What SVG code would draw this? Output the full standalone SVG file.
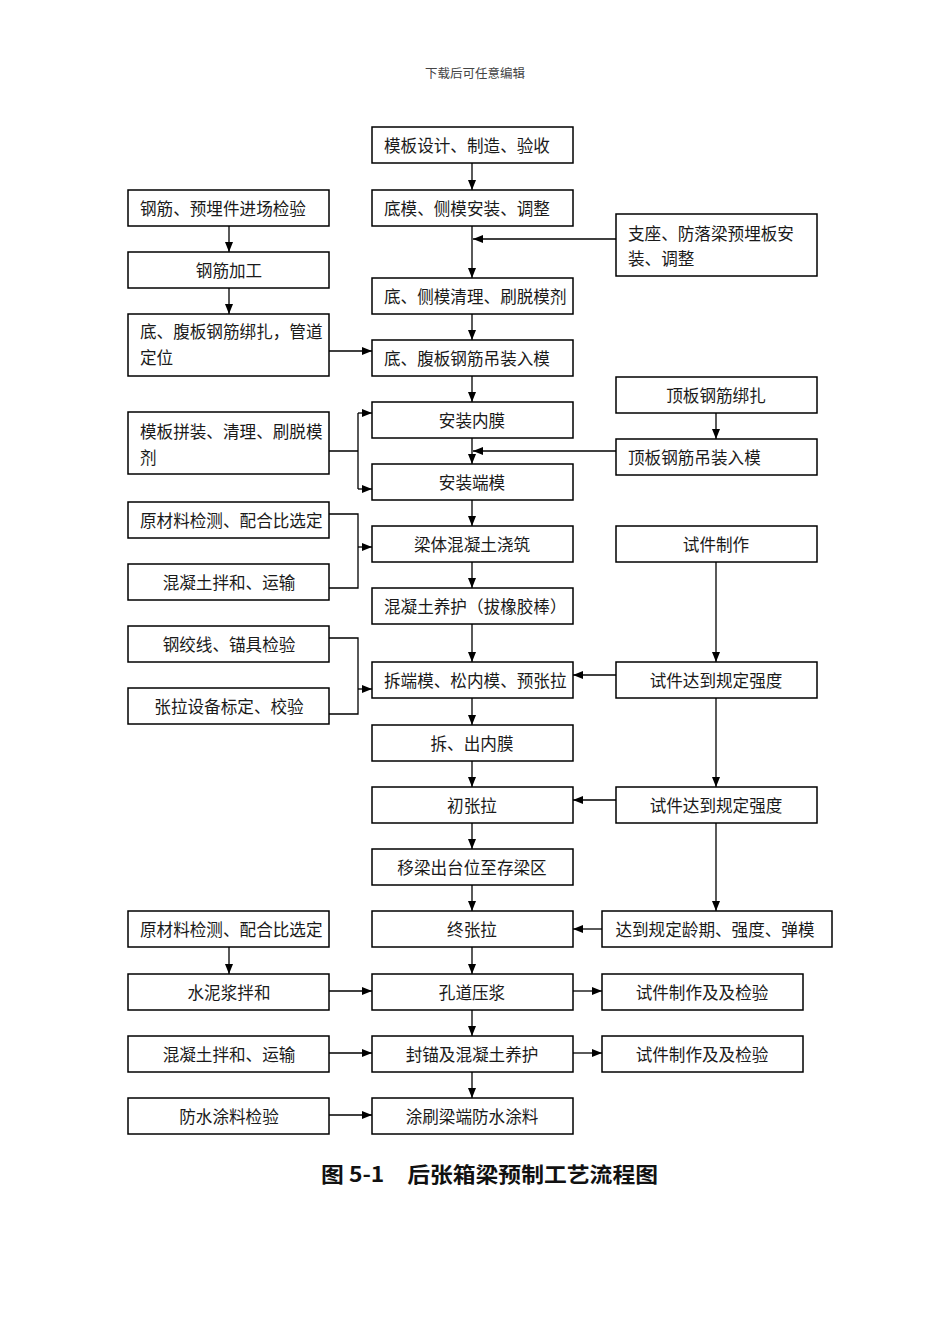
<svg xmlns="http://www.w3.org/2000/svg" width="950" height="1344" viewBox="0 0 950 1344">
<defs>
<marker id="ah" markerUnits="userSpaceOnUse" markerWidth="10" markerHeight="8" refX="10" refY="4" orient="auto">
<path d="M0,0 L10,4 L0,8 z" fill="#000"/>
</marker>
<style>
.b{fill:#fff;stroke:#000;stroke-width:1.5}
.t{font-family:"Noto Sans CJK SC","Noto Sans CJK JP",sans-serif;font-size:16.6px;fill:#1a1a1a;dominant-baseline:central}
.c{text-anchor:middle}
.l{fill:none;stroke:#000;stroke-width:1.3}
.a{fill:none;stroke:#000;stroke-width:1.3;marker-end:url(#ah)}
</style>
</defs>
<rect width="950" height="1344" fill="#fff"/>
<text x="475" y="74" font-family="'Liberation Serif','Noto Sans CJK SC',serif" font-size="12.5" fill="#444" text-anchor="middle" dominant-baseline="central">下载后可任意编辑</text>

<g id="connectors">
<path class="a" d="M472,163 V190"/>
<path class="a" d="M472,226 V278"/>
<path class="a" d="M616,239 H473"/>
<path class="a" d="M472,314 V340"/>
<path class="a" d="M229,226 V252"/>
<path class="a" d="M229,288 V314"/>
<path class="a" d="M329,351 H372"/>
<path class="a" d="M472,376 V402"/>
<path class="l" d="M329,451 H358 M358,413 V489"/>
<path class="a" d="M358,413 H372"/>
<path class="a" d="M358,489 H372"/>
<path class="a" d="M472,438 V464"/>
<path class="a" d="M616,451 H473"/>
<path class="a" d="M716,413 V439"/>
<path class="a" d="M472,500 V526"/>
<path class="l" d="M329,514 H358 V588 H329"/>
<path class="a" d="M358,547 H372"/>
<path class="a" d="M472,562 V588"/>
<path class="a" d="M472,624 V662"/>
<path class="l" d="M329,638 H358 V714 H329"/>
<path class="a" d="M358,689 H372"/>
<path class="a" d="M716,562 V662"/>
<path class="a" d="M616,675 H573"/>
<path class="a" d="M472,698 V725"/>
<path class="a" d="M716,698 V787"/>
<path class="a" d="M616,800 H573"/>
<path class="a" d="M472,761 V787"/>
<path class="a" d="M472,823 V849"/>
<path class="a" d="M716,823 V911"/>
<path class="a" d="M602,929 H573"/>
<path class="a" d="M472,885 V911"/>
<path class="a" d="M229,947 V974"/>
<path class="a" d="M329,991 H372"/>
<path class="a" d="M573,991 H602"/>
<path class="a" d="M472,947 V974"/>
<path class="a" d="M472,1010 V1036"/>
<path class="a" d="M329,1053 H372"/>
<path class="a" d="M573,1053 H602"/>
<path class="a" d="M472,1072 V1098"/>
<path class="a" d="M329,1115 H372"/>
</g>

<!-- center column -->
<g id="c1"><rect class="b" x="372" y="127" width="201" height="36"/><text class="t" x="384" y="145">模板设计、制造、验收</text></g>
<g id="c2"><rect class="b" x="372" y="190" width="201" height="36"/><text class="t" x="384" y="208">底模、侧模安装、调整</text></g>
<g id="c3"><rect class="b" x="372" y="278" width="201" height="36"/><text class="t" x="384" y="296">底、侧模清理、刷脱模剂</text></g>
<g id="c4"><rect class="b" x="372" y="340" width="201" height="36"/><text class="t" x="384" y="358">底、腹板钢筋吊装入模</text></g>
<g id="c5"><rect class="b" x="372" y="402" width="201" height="36"/><text class="t c" x="472" y="420">安装内膜</text></g>
<g id="c6"><rect class="b" x="372" y="464" width="201" height="36"/><text class="t c" x="472" y="482">安装端模</text></g>
<g id="c7"><rect class="b" x="372" y="526" width="201" height="36"/><text class="t c" x="472" y="544">梁体混凝土浇筑</text></g>
<g id="c8"><rect class="b" x="372" y="588" width="201" height="36"/><text class="t" x="384" y="606">混凝土养护（拔橡胶棒）</text></g>
<g id="c9"><rect class="b" x="372" y="662" width="201" height="36"/><text class="t" x="384" y="680">拆端模、松内模、预张拉</text></g>
<g id="c10"><rect class="b" x="372" y="725" width="201" height="36"/><text class="t c" x="472" y="743">拆、出内膜</text></g>
<g id="c11"><rect class="b" x="372" y="787" width="201" height="36"/><text class="t c" x="472" y="805">初张拉</text></g>
<g id="c12"><rect class="b" x="372" y="849" width="201" height="36"/><text class="t c" x="472" y="867">移梁出台位至存梁区</text></g>
<g id="c13"><rect class="b" x="372" y="911" width="201" height="36"/><text class="t c" x="472" y="929">终张拉</text></g>
<g id="c14"><rect class="b" x="372" y="974" width="201" height="36"/><text class="t c" x="472" y="992">孔道压浆</text></g>
<g id="c15"><rect class="b" x="372" y="1036" width="201" height="36"/><text class="t c" x="472" y="1054">封锚及混凝土养护</text></g>
<g id="c16"><rect class="b" x="372" y="1098" width="201" height="36"/><text class="t c" x="472" y="1116">涂刷梁端防水涂料</text></g>

<!-- left column -->
<g id="l1"><rect class="b" x="128" y="190" width="201" height="36"/><text class="t" x="140" y="208">钢筋、预埋件进场检验</text></g>
<g id="l2"><rect class="b" x="128" y="252" width="201" height="36"/><text class="t c" x="229" y="270">钢筋加工</text></g>
<g id="l3"><rect class="b" x="128" y="314" width="201" height="62"/><text class="t" x="140" y="331">底、腹板钢筋绑扎，管道</text><text class="t" x="140" y="357">定位</text></g>
<g id="l4"><rect class="b" x="128" y="412" width="201" height="62"/><text class="t" x="140" y="431">模板拼装、清理、刷脱模</text><text class="t" x="140" y="457">剂</text></g>
<g id="l5"><rect class="b" x="128" y="502" width="201" height="36"/><text class="t" x="140" y="520">原材料检测、配合比选定</text></g>
<g id="l6"><rect class="b" x="128" y="564" width="201" height="36"/><text class="t c" x="229" y="582">混凝土拌和、运输</text></g>
<g id="l7"><rect class="b" x="128" y="626" width="201" height="36"/><text class="t c" x="229" y="644">钢绞线、锚具检验</text></g>
<g id="l8"><rect class="b" x="128" y="688" width="201" height="36"/><text class="t c" x="229" y="706">张拉设备标定、校验</text></g>
<g id="l9"><rect class="b" x="128" y="911" width="201" height="36"/><text class="t" x="140" y="929">原材料检测、配合比选定</text></g>
<g id="l10"><rect class="b" x="128" y="974" width="201" height="36"/><text class="t c" x="229" y="992">水泥浆拌和</text></g>
<g id="l11"><rect class="b" x="128" y="1036" width="201" height="36"/><text class="t c" x="229" y="1054">混凝土拌和、运输</text></g>
<g id="l12"><rect class="b" x="128" y="1098" width="201" height="36"/><text class="t c" x="229" y="1116">防水涂料检验</text></g>

<!-- right column -->
<g id="r1"><rect class="b" x="616" y="214" width="201" height="62"/><text class="t" x="628" y="233">支座、防落梁预埋板安</text><text class="t" x="628" y="258">装、调整</text></g>
<g id="r2"><rect class="b" x="616" y="377" width="201" height="36"/><text class="t c" x="716" y="395">顶板钢筋绑扎</text></g>
<g id="r3"><rect class="b" x="616" y="439" width="201" height="36"/><text class="t" x="628" y="457">顶板钢筋吊装入模</text></g>
<g id="r4"><rect class="b" x="616" y="526" width="201" height="36"/><text class="t c" x="716" y="544">试件制作</text></g>
<g id="r5"><rect class="b" x="616" y="662" width="201" height="36"/><text class="t c" x="716" y="680">试件达到规定强度</text></g>
<g id="r6"><rect class="b" x="616" y="787" width="201" height="36"/><text class="t c" x="716" y="805">试件达到规定强度</text></g>
<g id="r7"><rect class="b" x="602" y="911" width="230" height="36"/><text class="t c" x="715" y="929">达到规定龄期、强度、弹模</text></g>
<g id="r8"><rect class="b" x="602" y="974" width="201" height="36"/><text class="t c" x="702" y="992">试件制作及及检验</text></g>
<g id="r9"><rect class="b" x="602" y="1036" width="201" height="36"/><text class="t c" x="702" y="1054">试件制作及及检验</text></g>

<text x="321" y="1173" font-family="'Noto Sans CJK SC','Noto Sans CJK JP',sans-serif" font-size="21" font-weight="bold" fill="#111" dominant-baseline="central" textLength="337" lengthAdjust="spacingAndGlyphs">图 5-1　后张箱梁预制工艺流程图</text>
</svg>
